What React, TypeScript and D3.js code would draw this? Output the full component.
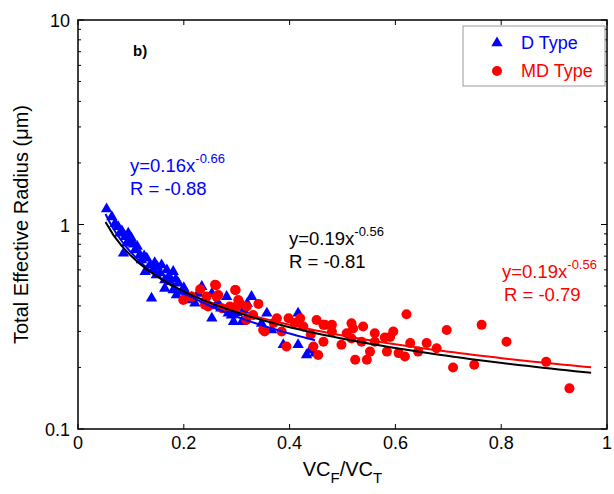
import React from 'react';
import * as d3 from 'd3';

// D Type (blue triangles): [VCF/VCT, radius]
const dType: [number, number][] = [
  [0.054, 1.19], [0.064, 1.09], [0.07, 1.01], [0.076, 0.975], [0.079, 0.906],
  [0.089, 0.872], [0.086, 0.723], [0.095, 0.906], [0.101, 0.856], [0.092, 0.809],
  [0.108, 0.75], [0.117, 0.71], [0.12, 0.67], [0.13, 0.684], [0.136, 0.634],
  [0.127, 0.588], [0.142, 0.599], [0.148, 0.566], [0.158, 0.634], [0.168, 0.599],
  [0.18, 0.588], [0.164, 0.535], [0.174, 0.525], [0.19, 0.516], [0.164, 0.487],
  [0.18, 0.478], [0.186, 0.452], [0.139, 0.436], [0.196, 0.47], [0.208, 0.427],
  [0.221, 0.412], [0.227, 0.46], [0.234, 0.497], [0.253, 0.46], [0.253, 0.348],
  [0.265, 0.412], [0.281, 0.444], [0.284, 0.368], [0.294, 0.335], [0.31, 0.335],
  [0.313, 0.382], [0.328, 0.444], [0.32, 0.41], [0.347, 0.328], [0.357, 0.368],
  [0.366, 0.305], [0.388, 0.258], [0.416, 0.368], [0.416, 0.258], [0.432, 0.23],
  [0.439, 0.243], [0.448, 0.235], [0.112, 0.78], [0.098, 0.84], [0.083, 0.93],
  [0.15, 0.62], [0.2, 0.49], [0.24, 0.43], [0.27, 0.39], [0.3, 0.37],
  [0.105, 0.8], [0.125, 0.7], [0.145, 0.65], [0.155, 0.58], [0.172, 0.56],
  [0.185, 0.54], [0.205, 0.46], [0.215, 0.44], [0.26, 0.4], [0.29, 0.36],
];

// MD Type (red circles)
const mdType: [number, number][] = [
  [0.231, 0.482], [0.261, 0.505], [0.298, 0.478], [0.199, 0.427], [0.215, 0.444],
  [0.262, 0.444], [0.341, 0.409], [0.306, 0.412], [0.299, 0.397], [0.24, 0.405],
  [0.376, 0.348], [0.353, 0.3], [0.318, 0.341], [0.259, 0.507], [0.297, 0.478],
  [0.265, 0.452], [0.243, 0.444], [0.303, 0.427], [0.319, 0.397], [0.287, 0.397],
  [0.246, 0.397], [0.272, 0.39], [0.331, 0.361], [0.398, 0.348], [0.42, 0.348],
  [0.451, 0.341], [0.467, 0.323], [0.385, 0.3], [0.35, 0.305], [0.394, 0.253],
  [0.445, 0.253], [0.454, 0.23], [0.426, 0.317], [0.464, 0.323], [0.48, 0.323],
  [0.464, 0.267], [0.517, 0.329], [0.508, 0.294], [0.539, 0.317], [0.498, 0.258],
  [0.517, 0.277], [0.536, 0.267], [0.561, 0.294], [0.561, 0.267], [0.596, 0.3],
  [0.59, 0.282], [0.552, 0.239], [0.524, 0.218], [0.546, 0.218], [0.584, 0.239],
  [0.606, 0.235], [0.618, 0.226], [0.621, 0.364], [0.628, 0.263], [0.643, 0.239],
  [0.659, 0.263], [0.678, 0.248], [0.697, 0.305], [0.709, 0.2], [0.749, 0.206],
  [0.763, 0.323], [0.81, 0.267], [0.885, 0.213], [0.929, 0.158], [0.41, 0.33],
  [0.37, 0.33], [0.48, 0.3], [0.52, 0.31], [0.58, 0.28], [0.44, 0.29],
];

// power-law fits y = a * x^b, drawn over [x0, x1]
const fits = [
  { name: 'D', a: 0.16, b: -0.66, x0: 0.052, x1: 0.448, color: '#0000ff' },
  { name: 'MD', a: 0.197, b: -0.54, x0: 0.19, x1: 0.97, color: '#ff0000' },
  { name: 'all', a: 0.185, b: -0.58, x0: 0.052, x1: 0.97, color: '#000000' },
];

const xTicks = [0, 0.2, 0.4, 0.6, 0.8, 1];
const yTicks = [0.1, 1, 10];

const W = 614, H = 494;
const left = 78, right = 607, top = 20, bottom = 429;
const FONT = '"Liberation Sans", Arial, sans-serif';

export default function App() {
  const x = d3.scaleLinear().domain([0, 1]).range([left, right]);
  const y = d3.scaleLog().domain([0.1, 10]).range([bottom, top]);

  const minor: number[] = [];
  [0.1, 1].forEach(d => { for (let k = 2; k <= 9; k++) minor.push(d * k); });

  const fitPath = (f: typeof fits[0]) => {
    const xs = d3.range(0, 61).map(i => f.x0 + (f.x1 - f.x0) * i / 60);
    return d3.line<number>().x(v => x(v)).y(v => y(f.a * Math.pow(v, f.b)))(xs) || '';
  };

  const tri = d3.symbol().type(d3.symbolTriangle).size(56)() || '';

  return (
    <svg width={W} height={H} style={{ position: 'absolute', left: 0, top: 0, background: '#fff' }} fontFamily={FONT}>
      <rect x={0} y={0} width={W} height={H} fill="#fff" />
      {/* points */}
      {dType.map((d, i) => (
        <path key={'d' + i} d={tri} transform={`translate(${x(d[0])},${y(d[1])})`} fill="#0000ff" />
      ))}
      {mdType.map((d, i) => (
        <circle key={'m' + i} cx={x(d[0])} cy={y(d[1])} r={5} fill="#ff0000" />
      ))}
      {/* fits */}
      {[fits[1], fits[0], fits[2]].map(f => (
        <path key={f.name} d={fitPath(f)} fill="none" stroke={f.color} strokeWidth={2} />
      ))}
      {/* axes box */}
      <rect x={left} y={top} width={right - left} height={bottom - top} fill="none" stroke="#000" strokeWidth={1.5} />
      {xTicks.map(t => (
        <g key={'x' + t}>
          <line x1={x(t)} x2={x(t)} y1={bottom} y2={bottom - 5} stroke="#000" />
          <line x1={x(t)} x2={x(t)} y1={top} y2={top + 5} stroke="#000" />
          <text x={x(t)} y={bottom + 20} fontSize={18} textAnchor="middle">{t}</text>
        </g>
      ))}
      {yTicks.map(t => (
        <g key={'y' + t}>
          <line x1={left} x2={left + 6} y1={y(t)} y2={y(t)} stroke="#000" />
          <line x1={right} x2={right - 6} y1={y(t)} y2={y(t)} stroke="#000" />
          <text x={left - 8} y={y(t) + 7} fontSize={18} textAnchor="end">{t}</text>
        </g>
      ))}
      {minor.map(t => (
        <g key={'mi' + t}>
          <line x1={left} x2={left + 3} y1={y(t)} y2={y(t)} stroke="#000" />
          <line x1={right} x2={right - 3} y1={y(t)} y2={y(t)} stroke="#000" />
        </g>
      ))}
      {/* axis titles */}
      <text transform={`translate(28,${(top + bottom) / 2}) rotate(-90)`} fontSize={20} textAnchor="middle">
        Total Effective Radius (μm)
      </text>
      <text x={(left + right) / 2} y={476} fontSize={20} textAnchor="middle">
        VC<tspan fontSize={15} dy={7}>F</tspan><tspan dy={-7}>/VC</tspan><tspan fontSize={15} dy={7}>T</tspan>
      </text>
      <text x={133} y={56} fontSize={15} fontWeight="bold">b)</text>
      {/* legend */}
      <rect x={463} y={26} width={142} height={60} fill="#fff" stroke="#999" strokeWidth={1} />
      <path d={tri} transform="translate(497,43)" fill="#0000ff" />
      <text x={521} y={49} fontSize={18} fill="#0000ff">D Type</text>
      <circle cx={497} cy={71} r={5} fill="#ff0000" />
      <text x={521} y={77} fontSize={18} fill="#ff0000">MD Type</text>
      {/* annotations */}
      <g fontSize={18.5}>
        <text x={130} y={172} fill="#0000ff">y=0.16x<tspan fontSize={13} dy={-9}>-0.66</tspan></text>
        <text x={130} y={195} fill="#0000ff">R = -0.88</text>
        <text x={289} y={245} fill="#000">y=0.19x<tspan fontSize={13} dy={-9}>-0.56</tspan></text>
        <text x={289} y={268} fill="#000">R = -0.81</text>
        <text x={502} y={278} fill="#ff0000">y=0.19x<tspan fontSize={13} dy={-9}>-0.56</tspan></text>
        <text x={504} y={301} fill="#ff0000">R = -0.79</text>
      </g>
    </svg>
  );
}
